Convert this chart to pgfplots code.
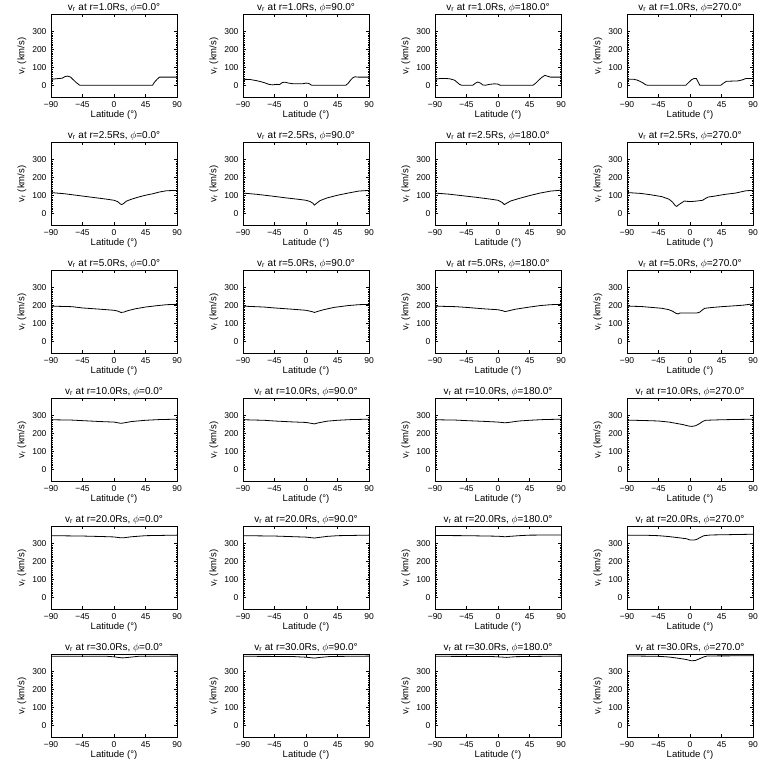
\documentclass[border=0pt]{standalone}
\usepackage{fontspec}
\setmainfont{Liberation Sans}
\usepackage{pgfplots}
\pgfplotsset{compat=1.18}

\pgfplotsset{
  every axis title/.style={at={(0.5,1)}, anchor=south, inner sep=2pt,
    font=\fontsize{10}{11}\selectfont},
  panel/.style={
    scale only axis, width=126pt, height=83pt,
    anchor=north west,
    xmin=-90, xmax=90, ymin=-68, ymax=393,
    xtick={-90,-45,0,45,90}, xticklabels={−90,−45,0,45,90},
    ytick={0,100,200,300},
    minor y tick num=9,
    tick align=inside,
    major tick length=3pt, minor tick length=1.5pt,
    axis line style={line width=0.8pt}, every tick/.style={line width=0.6pt, black},
    /pgf/number format/assume math mode=true,
    tick label style={font=\fontsize{8.5}{9}\selectfont},
    yticklabel style={xshift=-1pt},
    xticklabel style={yshift=-1pt},
    label style={font=\fontsize{9.5}{10}\selectfont},
    xlabel={Latitude (°)}, ylabel={v\textsubscript{r} (km/s)},
    xlabel style={yshift=4pt}, ylabel style={yshift=-1pt},
  }
}

\newcommand\vplot[5]{%
  \pgfmathsetmacro\px{#1*192+51}%
  \pgfmathsetmacro\py{768-#2*128-14.5}%
  \begin{axis}[panel, at={(\px pt,\py pt)},
      title={v\textsubscript{r} at r=#3Rs, $\phi$=#4°}]
    \addplot[black, line width=0.8pt] coordinates {#5};
  \end{axis}}

\begin{document}
\begin{tikzpicture}
\useasboundingbox (0pt,0pt) rectangle (768pt,768pt);

% r = 1.0
\vplot{0}{0}{1.0}{0.0}{(-90,33)(-80,37)(-74,39)(-70,48)(-66,51)(-62,45)(-58,30)(-54,15)(-49,0)(0,0)(55,0)(58,18)(62,35)(65,45)(90,45)}
\vplot{1}{0}{1.0}{90.0}{(-90,33)(-80,32)(-70,25)(-60,15)(-53,5)(-48,2)(-42,5)(-38,3)(-34,15)(-30,17)(-25,12)(-18,8)(-5,8)(0,12)(4,10)(8,0)(57,0)(60,10)(64,30)(67,42)(70,47)(75,45)(90,45)}
\vplot{2}{0}{1.0}{180.0}{(-90,33)(-82,38)(-75,38)(-68,35)(-62,28)(-55,5)(-52,0)(-36,0)(-32,12)(-29,18)(-25,12)(-22,2)(-18,0)(-12,5)(-5,8)(0,6)(3,0)(50,0)(54,12)(58,28)(63,45)(67,55)(71,50)(75,45)(90,45)}
\vplot{3}{0}{1.0}{270.0}{(-90,33)(-80,33)(-75,28)(-68,15)(-63,2)(-60,0)(-6,0)(-2,15)(2,30)(6,38)(9,38)(12,15)(14,0)(44,0)(48,12)(52,22)(68,24)(75,30)(80,38)(90,38)}

% r = 2.5
\vplot{0}{1}{2.5}{0.0}{(-90,115)(-70,108)(-50,98)(-30,88)(-10,78)(0,72)(5,65)(9,52)(11,48)(14,55)(18,68)(25,78)(35,90)(45,100)(55,108)(65,118)(75,125)(90,127)}
\vplot{1}{1}{2.5}{90.0}{(-90,112)(-70,105)(-50,96)(-30,86)(-10,77)(0,72)(6,65)(10,55)(12,45)(15,55)(20,70)(30,85)(45,100)(60,112)(75,123)(90,127)}
\vplot{2}{1}{2.5}{180.0}{(-90,112)(-70,106)(-50,97)(-30,88)(-10,78)(0,72)(6,60)(9,48)(12,55)(18,68)(30,82)(45,98)(60,112)(75,123)(90,128)}
\vplot{3}{1}{2.5}{270.0}{(-90,115)(-70,110)(-55,102)(-40,92)(-30,78)(-25,62)(-21,42)(-19,38)(-16,48)(-12,58)(-8,68)(-4,66)(2,65)(10,68)(18,72)(22,82)(26,90)(35,95)(50,105)(65,112)(80,125)(90,127)}

% r = 5.0
\vplot{0}{2}{5.0}{0.0}{(-90,195)(-60,192)(-45,185)(-20,178)(0,172)(5,168)(10,160)(14,162)(20,170)(30,180)(45,190)(60,197)(75,203)(90,205)}
\vplot{1}{2}{5.0}{90.0}{(-90,195)(-60,190)(-45,185)(-20,178)(0,172)(8,165)(12,160)(16,165)(25,175)(40,188)(60,198)(75,203)(90,205)}
\vplot{2}{2}{5.0}{180.0}{(-90,195)(-60,192)(-45,188)(-20,180)(0,175)(6,170)(10,165)(14,168)(25,178)(45,190)(60,198)(75,203)(90,205)}
\vplot{3}{2}{5.0}{270.0}{(-90,195)(-70,193)(-55,188)(-40,183)(-30,175)(-25,167)(-20,155)(-17,152)(-14,157)(0,157)(10,157)(14,162)(18,175)(21,183)(30,187)(45,192)(60,196)(75,200)(85,205)(90,205)}

% r = 10.0
\vplot{0}{3}{10.0}{0.0}{(-90,275)(-60,273)(-45,270)(-20,265)(0,262)(10,255)(15,258)(25,265)(45,272)(65,276)(90,278)}
\vplot{1}{3}{10.0}{90.0}{(-90,275)(-60,272)(-45,268)(-20,263)(0,260)(12,252)(18,258)(30,267)(45,272)(65,276)(90,278)}
\vplot{2}{3}{10.0}{180.0}{(-90,275)(-60,273)(-45,270)(-20,266)(0,262)(10,258)(15,260)(30,268)(45,272)(65,276)(90,278)}
\vplot{3}{3}{10.0}{270.0}{(-90,273)(-60,270)(-45,268)(-30,262)(-20,255)(-10,248)(-2,240)(3,238)(8,242)(13,252)(18,265)(22,272)(45,275)(90,278)}

% r = 20.0
\vplot{0}{4}{20.0}{0.0}{(-90,342)(-45,340)(-15,337)(0,335)(10,330)(15,331)(25,336)(45,342)(90,345)}
\vplot{1}{4}{20.0}{90.0}{(-90,342)(-45,340)(-15,336)(0,334)(12,329)(18,332)(30,338)(45,342)(90,345)}
\vplot{2}{4}{20.0}{180.0}{(-90,343)(-45,342)(-15,340)(0,339)(10,336)(16,338)(30,342)(45,345)(90,346)}
\vplot{3}{4}{20.0}{270.0}{(-90,345)(-60,344)(-45,342)(-30,337)(-15,330)(-5,325)(0,318)(6,318)(10,322)(15,333)(20,342)(30,346)(45,347)(90,350)}

% r = 30.0
\vplot{0}{5}{30.0}{0.0}{(-90,383)(-10,383)(0,380)(8,376)(12,374)(18,376)(25,379)(35,383)(90,384)}
\vplot{1}{5}{30.0}{90.0}{(-90,383)(-20,382)(0,378)(12,373)(20,377)(35,382)(90,384)}
\vplot{2}{5}{30.0}{180.0}{(-90,383)(-10,382)(5,379)(12,377)(25,381)(90,384)}
\vplot{3}{5}{30.0}{270.0}{(-90,385)(-45,383)(-30,379)(-20,374)(-5,365)(2,358)(8,360)(14,370)(20,380)(25,385)(90,386)}

\end{tikzpicture}
\end{document}
